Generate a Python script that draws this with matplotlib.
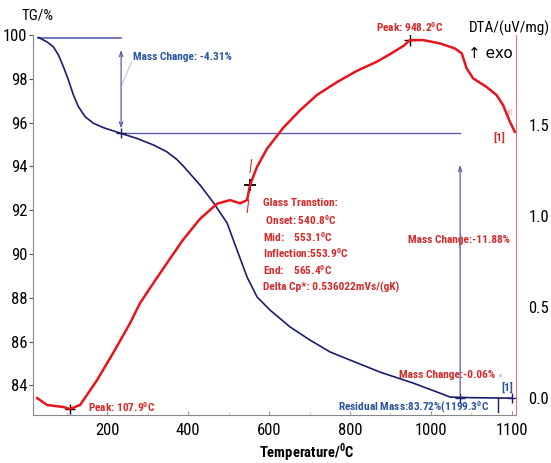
import matplotlib
matplotlib.use("Agg")
import numpy as np
from matplotlib import pyplot as plt
from matplotlib import font_manager

# ---- data ----
tg_temp = [30.4, 51.1, 67.4, 79.8, 92.1, 104.4, 116.8, 129.1, 145.7, 166.2,
           190.9, 233.8, 273.3, 314.3, 347.4, 372.1, 387.6, 429.6, 461.7, 496.3,
           521.0, 545.7, 570.4, 602.5, 651.9, 701.2, 750.6, 800.0, 874.0, 955.6,
           1022.0, 1047.0, 1100.0, 1200.0]
tg_mass = [99.89, 99.69, 99.46, 99.09, 98.55, 97.95, 97.26, 96.73, 96.27, 95.97,
           95.77, 95.51, 95.28, 94.98, 94.67, 94.32, 94.03, 93.15, 92.37, 91.42,
           90.18, 88.95, 88.04, 87.44, 86.67, 86.07, 85.53, 85.16, 84.61, 84.11,
           83.65, 83.47, 83.44, 83.42]

dta_temp = [27.2, 51.9, 91.4, 107.9, 133.3, 175.3, 214.8, 256.8, 281.5, 306.2,
            348.0, 387.7, 429.6, 471.6, 503.7, 528.4, 545.7, 553.0, 570.0, 595.0,
            635.0, 676.0, 718.0, 767.0, 816.0, 866.0, 899.0, 932.0, 948.2, 981.0,
            1022.0, 1059.0, 1076.0, 1088.0, 1104.0, 1137.0, 1162.0, 1178.0, 1195.0,
            1207.0]
dta_val = [0.0, -0.038, -0.049, -0.060, -0.038, 0.099, 0.247, 0.412, 0.522, 0.605,
           0.742, 0.870, 0.985, 1.068, 1.088, 1.070, 1.088, 1.170, 1.269, 1.370,
           1.485, 1.580, 1.665, 1.735, 1.797, 1.848, 1.890, 1.935, 1.967, 1.967,
           1.949, 1.921, 1.894, 1.812, 1.757, 1.710, 1.665, 1.610, 1.518, 1.463]

x_ticks = [200, 400, 600, 800, 1000, 1200]
x_tick_labels = ["200", "400", "600", "800", "1000", "1100"]
tg_ticks = [84, 86, 88, 90, 92, 94, 96, 98, 100]
dta_ticks = [0.0, 0.5, 1.0, 1.5]

glass_lines = ["Glass Transtion:",
               " Onset: 540.8$^\\mathregular{0}$C",
               "Mid:    553.1$^\\mathregular{0}$C",
               "Inflection:553.9$^\\mathregular{0}$C",
               "End:    565.4$^\\mathregular{0}$C",
               "Delta Cp*: 0.536022mVs/(gK)"]

# ---- pick a narrow font if one is there ----
names = {f.name for f in font_manager.fontManager.ttflist}
narrow = None
for cand in ["Liberation Sans Narrow", "Roboto Condensed", "Open Sans Condensed",
             "DejaVu Sans Condensed"]:
    if cand in names:
        narrow = cand
        break
stretch = "normal"
if narrow is None:
    narrow = "DejaVu Sans"
    stretch = "condensed"
plt.rcParams["font.family"] = [narrow, "DejaVu Sans"]
plt.rcParams["font.stretch"] = stretch
plt.rcParams["mathtext.fontset"] = "custom"
plt.rcParams["mathtext.rm"] = narrow
plt.rcParams["mathtext.bf"] = narrow + ":bold"

RED = "#e8141b"
NAVY = "#1c1c6e"
REF = "#5c5cb0"
TXT_BLUE = "#2b55a0"
TXT_RED = "#d42a2a"

fig = plt.figure(figsize=(5.51, 4.63), dpi=100)
ax = fig.add_axes([33 / 551, 48 / 463, 483 / 551, 380 / 463])
ax2 = ax.twinx()

ax.set_xlim(17, 1210)
ax.set_ylim(82.65, 100.0)
ax2.set_ylim(-0.093, 1.995)

# curves
ax.plot(tg_temp, tg_mass, color=NAVY, lw=1.2, zorder=3)
ax2.plot(dta_temp, dta_val, color=RED, lw=1.8, zorder=4)

# reference lines for TG steps
ax.plot([30.4, 234.6], [99.85, 99.85], color=REF, lw=1.2)
ax.plot([234.6, 1072], [95.52, 95.52], color=REF, lw=1.0)
ax.annotate("", xy=(234.6, 99.45), xytext=(234.6, 95.6),
            arrowprops=dict(arrowstyle="<->,head_length=0.35,head_width=0.12",
                            color=REF, lw=0.9))
ax.annotate("", xy=(1072, 94.2), xytext=(1072, 83.47),
            arrowprops=dict(arrowstyle="->,head_length=0.35,head_width=0.12",
                            color=REF, lw=0.9))
ax.plot([236, 261], [97.72, 98.78], color="#b8c4e0", lw=0.8)
ax.plot([1069, 1075], [90.3, 90.9], color="#b8c4e0", lw=0.8)
ax.plot(234.6, 95.52, marker="+", color=NAVY, ms=7, mew=1.0)
ax.plot([1072, 1200], [83.44, 83.42], marker="+", color=NAVY, ms=7, mew=1.0, lw=0)
ax.plot([1165, 1165], [83.43, 82.8], color=NAVY, lw=1.0)

# markers on DTA
ax2.plot(107.9, -0.060, marker="+", color="black", ms=7, mew=1.0)
ax2.plot(948.2, 1.967, marker="+", color="black", ms=8, mew=1.0)
ax2.plot(553.0, 1.170, marker="+", color="black", ms=8, mew=1.3)
ax2.plot([553, 557], [1.24, 1.31], color=TXT_RED, lw=0.8)
ax2.plot([546, 550], [1.02, 1.09], color=TXT_RED, lw=0.8)

# annotations
tkw = dict(fontsize=8.2, fontweight="bold")
ax.text(264, 99.0, "Mass Change: -4.31%", color=TXT_BLUE, va="center", **tkw)
ax.text(1069, 90.64, "Mass Change:-11.88%", color=TXT_RED, va="center", ha="center",
        **tkw)
ax.text(1158, 84.47, "Mass Change:-0.06%", color=TXT_RED, va="center", ha="right", **tkw)
ax.text(1172, 84.47, "[1]", color="#8090b0", va="center", ha="center", fontsize=3)
ax.text(1188, 83.93, "[1]", color=TXT_BLUE, va="center", ha="center", **tkw)
ax.text(770, 83.01, "Residual Mass:83.72%(1199.3$^\\mathregular{0}$C", color=TXT_BLUE,
        va="center", ha="left", **tkw)
ax2.text(153, -0.049, "Peak: 107.9$^\\mathregular{0}$C", color=TXT_RED, va="center", **tkw)
ax2.text(948, 2.04, "Peak: 948.2$^\\mathregular{0}$C", color=TXT_RED, va="center",
         ha="center", clip_on=False, **tkw)
ax2.text(1170, 1.434, "[1]", color=TXT_RED, va="center", ha="center", **tkw)
ax2.text(1195, 1.566, "[1]", color="#e07070", va="center", ha="center", fontsize=4)
for i, line in enumerate(glass_lines):
    ax2.text(585, 1.071 - i * 0.092, line, color=TXT_RED, va="center", **tkw)

# axes styling
ax.set_xticks(x_ticks)
ax.set_xticklabels(x_tick_labels)
ax.set_xticks(np.arange(100, 1201, 100), minor=True)
ax.set_yticks(tg_ticks)
ax.set_yticklabels([str(v) for v in tg_ticks])
ax2.set_yticks(dta_ticks)
ax2.set_yticklabels(["%.1f" % v for v in dta_ticks])

ax.tick_params(axis="x", which="major", direction="in", length=3, color="#999999",
               labelsize=12, pad=6)
ax.tick_params(axis="x", which="minor", direction="in", length=2, color="#bbbbbb")
ax.tick_params(axis="y", direction="out", length=3, color="#555555", labelsize=12, pad=1)
ax2.tick_params(axis="y", length=0, labelsize=12, pad=9)

ax.spines["top"].set_visible(False)
ax2.spines["top"].set_visible(False)
ax.spines["left"].set_color("#888888")
ax.spines["bottom"].set_color("#888888")
ax.spines["right"].set_visible(False)
ax2.spines["left"].set_visible(False)
ax2.spines["bottom"].set_visible(False)
ax2.spines["right"].set_color("#e07878")

fig.text(38 / 551, 1 - 15 / 463, "TG/%", ha="center", va="center", fontsize=11)
fig.text(509 / 551, 1 - 28 / 463, "DTA/(uV/mg)", ha="center", va="center", fontsize=11)
fig.text(490 / 551, 1 - 53 / 463, "\u2191 exo", ha="center", va="center", fontsize=11,
         family=["DejaVu Sans"])
fig.text(307 / 551, 1 - 452 / 463, "Temperature/$^\\mathregular{0}$C", ha="center",
         va="center", fontsize=10.5, fontweight="bold")

fig.savefig("out.png", dpi=100)
